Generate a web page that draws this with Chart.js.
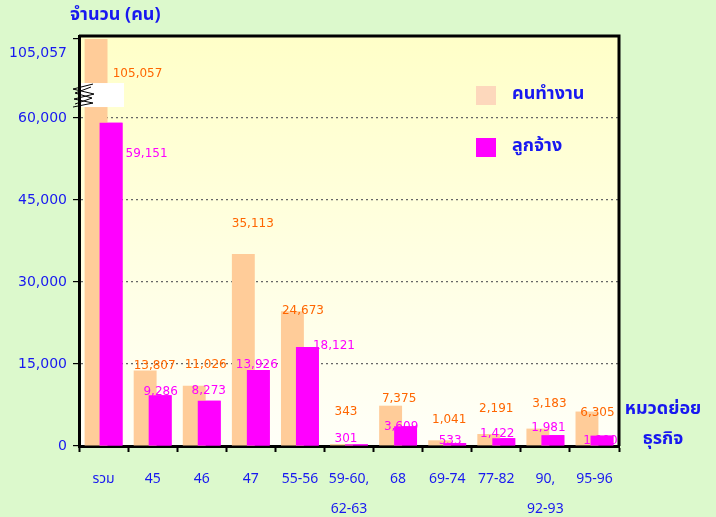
<!DOCTYPE html>
<html><head><meta charset="utf-8">
<script src="https://cdn.jsdelivr.net/npm/chart.js@4"></script>
<style>html,body{margin:0;padding:0;background:#DCF9CC;}#wrap{width:716px;height:517px;}</style>
</head><body><div id="wrap"><canvas id="c" width="716" height="517"></canvas></div>
<script>
// ---- data ----
const categories = ['รวม', '45', '46', '47', '55-56', ['59-60,', '62-63'], '68', '69-74', '77-82', ['90,', '92-93'], '95-96'];
const seriesNames = ['คนทำงาน', 'ลูกจ้าง'];
const workers = [105057, 13807, 11026, 35113, 24673, 343, 7375, 1041, 2191, 3183, 6305];
const employees = [59151, 9286, 8273, 13926, 18121, 301, 3609, 533, 1422, 1981, 1900];
const yTicks = [0, 15000, 30000, 45000, 60000, 105057];
const yBreak = 60000;
const yMaxReal = 106800;
const yTitle = 'จำนวน (คน)';
const xTitle = ['หมวดย่อย', 'ธุรกิจ'];

// ---- label placement (pixel nudges, style only) ----
const workerLabelDx = [34, 2, 4, 2, 3, -3, 1, 2, 0, 4, 3];
const workerLabelDy = [35, -5, -21, -30, 0, -32, -7, -20, -25, -25, 1];
const employeeLabelDx = [43, 8, 7, 6, 34, -3, 3, 3, 1, 3, 6];
const employeeLabelDy = [31, -3, -10, -5, -1, -5, 1, -2, -4, -7, 5];

const BLUE = '#1818F0';
const PEACH = '#FFCC99';
const PEACH_LEGEND = '#FDD8BC';
const MAGENTA = '#FF00FF';
const THAI = '"Noto Sans Thai", Tahoma, "DejaVu Sans", sans-serif';
const NUM = '"DejaVu Sans", sans-serif';
const breakRatio = 0.3207;

class BrokenScale extends Chart.LinearScale {
  fwd(v) { return v <= yBreak ? v : yBreak + (v - yBreak) * breakRatio; }
  inv(m) { return m <= yBreak ? m : yBreak + (m - yBreak) / breakRatio; }
  getPixelForValue(v) { return super.getPixelForValue(this.fwd(v)); }
  getValueForPixel(p) { return this.inv(super.getValueForPixel(p)); }
  buildTicks() { return yTicks.map(v => ({ value: v })); }
  _computeLabelItems(area) {
    const items = super._computeLabelItems(area);
    items.forEach((it, i) => {
      if (this.ticks[i] && this.ticks[i].value > yBreak && it.options && it.options.translation) {
        it.options.translation[1] += 14;
      }
    });
    return items;
  }
}
BrokenScale.id = 'broken';
BrokenScale.defaults = Chart.LinearScale.defaults;
Chart.register(BrokenScale);

const fmt = v => v.toLocaleString('en-US');

const decor = {
  id: 'decor',
  beforeDraw(chart) {
    const { ctx, chartArea: a } = chart;
    ctx.save();
    ctx.fillStyle = '#DCF9CC';
    ctx.fillRect(0, 0, chart.width, chart.height);
    const g = ctx.createLinearGradient(0, a.top, 0, a.bottom);
    g.addColorStop(0, '#FFFFC8');
    g.addColorStop(1, '#FFFFF8');
    ctx.fillStyle = g;
    ctx.fillRect(a.left, a.top, a.right - a.left, a.bottom - a.top);
    ctx.restore();
  },
  afterDatasetsDraw(chart) {
    const { ctx, chartArea: a, scales } = chart;
    const ys = scales.y, xs = scales.x;
    // redraw employees so they sit over the overlapping worker bars
    chart.getDatasetMeta(1).controller.draw();
    ctx.save();
    // break box
    const y60 = ys.getPixelForValue(yBreak);
    ctx.fillStyle = '#FFFFFF';
    ctx.fillRect(a.left + 2, y60 - 35, 43, 24);
    ctx.strokeStyle = '#000';
    ctx.lineWidth = 1;
    ctx.beginPath();
    const zx1 = a.left - 6, zx2 = a.left + 14, zy = y60 - 34;
    ctx.moveTo(zx2, zy);
    ctx.lineTo(zx1, zy + 5);
    ctx.lineTo(zx2 + 1, zy + 10);
    ctx.lineTo(zx1 + 1, zy + 15);
    ctx.lineTo(zx2, zy + 19);
    ctx.lineTo(zx1, zy + 23);
    ctx.stroke();
    ctx.beginPath();
    ctx.moveTo(zx2 - 2, zy + 3);
    ctx.lineTo(zx1 + 2, zy + 9);
    ctx.lineTo(zx2 - 1, zy + 14);
    ctx.lineTo(zx1 + 2, zy + 20);
    ctx.stroke();
    // top and right border
    ctx.strokeStyle = '#000';
    ctx.lineWidth = 3;
    ctx.beginPath();
    ctx.moveTo(a.left, a.top);
    ctx.lineTo(a.right, a.top);
    ctx.lineTo(a.right, a.bottom);
    ctx.stroke();
    // data labels
    ctx.font = '12px ' + NUM;
    ctx.textAlign = 'center';
    ctx.textBaseline = 'middle';
    const sets = [
      { data: workers, dx: workerLabelDx, dy: workerLabelDy, color: '#FF6600' },
      { data: employees, dx: employeeLabelDx, dy: employeeLabelDy, color: MAGENTA }
    ];
    sets.forEach((s, di) => {
      const meta = chart.getDatasetMeta(di);
      meta.data.forEach((el, i) => {
        const cx = xs.getPixelForValue(i);
        ctx.fillStyle = s.color;
        ctx.fillText(fmt(s.data[i]), cx + s.dx[i], el.y + s.dy[i]);
      });
    });
    ctx.restore();
  },
  afterDraw(chart) {
    const { ctx, chartArea: a } = chart;
    ctx.save();
    // axis titles
    ctx.fillStyle = BLUE;
    ctx.font = 'bold 18px ' + THAI;
    ctx.textBaseline = 'middle';
    ctx.textAlign = 'left';
    ctx.fillText(yTitle, 70, 16);
    ctx.textAlign = 'center';
    ctx.fillText(xTitle[0], a.right + 44, 410);
    ctx.fillText(xTitle[1], a.right + 44, 440);
    // legend
    const lx = a.left + 397, ly = a.top + 50;
    [PEACH_LEGEND, MAGENTA].forEach((c, i) => {
      const y = ly + i * 52;
      ctx.fillStyle = c;
      ctx.fillRect(lx, y, 20, 19);
      ctx.fillStyle = BLUE;
      ctx.textAlign = 'left';
      ctx.fillText(seriesNames[i], lx + 36, y + 9);
    });
    ctx.restore();
  }
};

new Chart(document.getElementById('c'), {
  type: 'bar',
  data: {
    labels: categories,
    datasets: [
      { label: seriesNames[0], data: workers, backgroundColor: PEACH, categoryPercentage: 0.61, barPercentage: 1.53 },
      { label: seriesNames[1], data: employees, backgroundColor: MAGENTA, categoryPercentage: 0.61, barPercentage: 1.53 }
    ]
  },
  options: {
    responsive: false,
    animation: false,
    devicePixelRatio: 1,
    layout: { padding: { top: 36, right: 97, left: 0, bottom: 0 } },
    plugins: { legend: { display: false }, tooltip: { enabled: false } },
    scales: {
      x: {
        grid: { color: 'rgba(0,0,0,0)', tickColor: '#000', tickLength: 6, tickWidth: 2, offset: true },
        border: { display: true, color: '#000', width: 3 },
        ticks: { color: BLUE, font: { family: THAI, size: 14, lineHeight: 2.15 }, padding: 13, maxRotation: 0, autoSkip: false },
        afterFit(s) { s.height = 71; }
      },
      y: {
        type: 'broken',
        min: 0,
        max: yBreak + (yMaxReal - yBreak) * breakRatio,
        grid: {
          color: c => (c.tick && c.tick.value > 0 && c.tick.value <= yBreak) ? '#666' : 'rgba(0,0,0,0)',
          tickColor: '#000', tickLength: 6, lineWidth: 1.2
        },
        border: { display: true, color: '#000', width: 3, dash: [2, 3] },
        ticks: { color: BLUE, font: { family: NUM, size: 14 }, padding: 6, callback: v => fmt(v) },
        afterFit(s) { s.width = 79; }
      }
    }
  },
  plugins: [decor]
});
</script>
</body></html>
